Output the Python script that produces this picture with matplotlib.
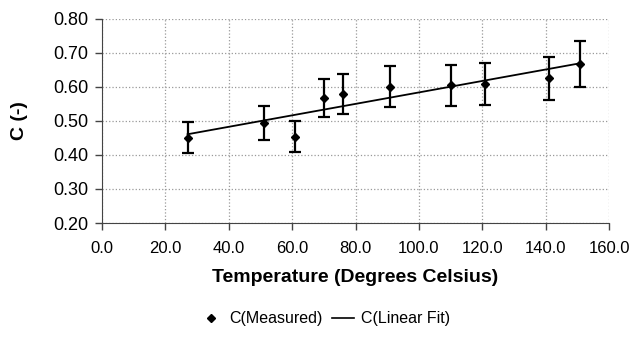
import numpy as np
import matplotlib.pyplot as plt
from matplotlib.lines import Line2D

plt.rcParams['font.family'] = ['Liberation Sans', 'DejaVu Sans']

temperature = [27, 51, 61, 70, 76, 91, 110, 121, 141, 151]
c_measured = [0.451, 0.495, 0.454, 0.569, 0.580, 0.601, 0.605, 0.609, 0.626, 0.668]
c_error = [0.045, 0.050, 0.045, 0.056, 0.058, 0.060, 0.060, 0.062, 0.063, 0.067]

# Linear fit end points
fit_x = [27, 151]
fit_y = [0.461, 0.670]

x_ticks = np.arange(0, 161, 20)
y_ticks = np.arange(0.2, 0.81, 0.1)

fig = plt.figure(figsize=(6.39, 3.39), dpi=100)
ax = fig.add_axes([102 / 639, 1 - 223 / 339, (609 - 102) / 639, (223 - 19) / 339])

ax.errorbar(temperature, c_measured, yerr=c_error, fmt='D', color='black',
            markersize=4.5, ecolor='black', elinewidth=1.6, capsize=4, capthick=1.6,
            zorder=3)
ax.plot(fit_x, fit_y, color='black', linewidth=1.3, zorder=2)

ax.set_xlim(0, 160)
ax.set_ylim(0.2, 0.8)
ax.set_xticks(x_ticks)
ax.set_xticklabels([f'{v:.1f}' for v in x_ticks], fontsize=12)
ax.set_yticks(y_ticks)
ax.set_yticklabels([f'{v:.2f}' for v in y_ticks], fontsize=13)
ax.tick_params(axis='both', direction='out', length=5, width=1, color='#444444', pad=5)
ax.tick_params(axis='x', pad=8)

ax.grid(True, linestyle=':', color='#999999', linewidth=0.9)
ax.spines['top'].set_visible(False)
ax.spines['right'].set_visible(False)
ax.spines['left'].set_color('#444444')
ax.spines['bottom'].set_color('#444444')

ax.set_xlabel('Temperature (Degrees Celsius)', fontsize=14, fontweight='bold', labelpad=9)
ax.set_ylabel('C (-)', fontsize=14, fontweight='bold', labelpad=18)

handles = [
    Line2D([], [], marker='D', color='black', linestyle='none', markersize=4),
    Line2D([], [], color='black', linewidth=1.2),
]
fig.legend(handles, ['C(Measured)', 'C(Linear Fit)'], loc='center',
           bbox_to_anchor=(325 / 639, 1 - 319 / 339), ncol=2, frameon=False,
           fontsize=11.5, handlelength=1.4, handletextpad=0.4, columnspacing=0.6)

fig.savefig('out.png', dpi=100)
